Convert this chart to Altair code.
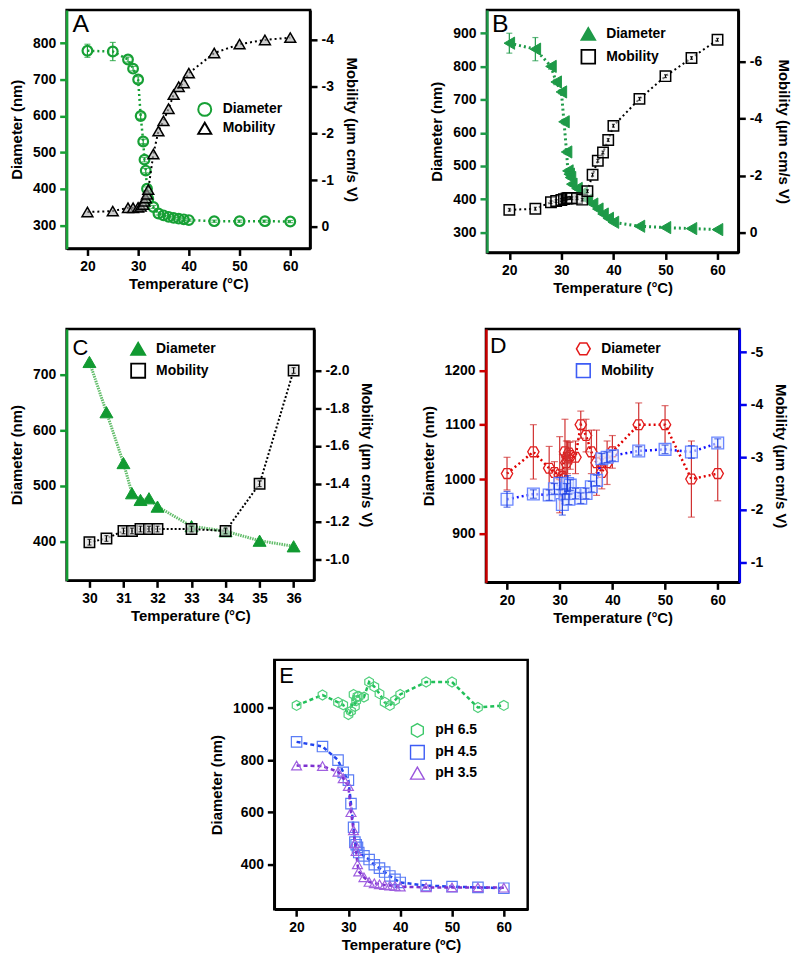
import altair as alt
import pandas as pd

FONT = "Liberation Sans"
MINUS_FIX = "replace(datum.label, '\u2212', '-')"

# ---------------- data ----------------
T_MAIN = [20, 25, 28, 29, 30, 30.5, 31, 31.25, 31.5, 31.75, 32, 33, 34, 35, 36, 37, 38, 39, 40, 45, 50, 55, 60]

# Panel A
A_diam = [779, 777, 755, 730, 700, 600, 530, 480, 450, 400, 372, 350, 332, 327, 323, 320, 318, 316, 314, 311, 311, 311, 310]
A_diam_err = [18, 25, 7, 6, 8, 8, 6, 6, 6, 5, 5, 4, 4, 4, 3, 3, 3, 3, 3, 3, 3, 3, 3]
A_mob = [-0.32, -0.34, -0.41, -0.41, -0.42, -0.44, -0.48, -0.55, -0.62, -0.70, -0.80, -1.56, -2.05, -2.27, -2.53, -2.83, -3.00, -3.08, -3.29, -3.72, -3.91, -4.00, -4.05]
A_mob_err = [0.03, 0.03, 0.03, 0.03, 0.03, 0.03, 0.03, 0.03, 0.03, 0.03, 0.03, 0.04, 0.04, 0.04, 0.04, 0.04, 0.04, 0.04, 0.04, 0.04, 0.04, 0.04, 0.04]

# Panel B
B_diam = [870, 852, 800, 753, 723, 633, 542, 485, 475, 465, 445, 432, 418, 398, 385, 370, 355, 342, 330, 318, 314, 311, 308]
B_diam_err = [30, 35, 8, 8, 6, 6, 6, 5, 5, 5, 5, 5, 4, 4, 4, 4, 4, 3, 3, 3, 3, 3, 3]
B_mob = [-0.79, -0.83, -1.06, -1.10, -1.14, -1.17, -1.19, -1.20, -1.21, -1.21, -1.20, -1.20, -1.15, -1.45, -2.03, -2.52, -2.81, -3.25, -3.75, -4.70, -5.50, -6.14, -6.78]
B_mob_err = [0.05, 0.05, 0.05, 0.05, 0.05, 0.05, 0.05, 0.05, 0.05, 0.05, 0.05, 0.05, 0.05, 0.05, 0.05, 0.05, 0.05, 0.05, 0.05, 0.05, 0.05, 0.05, 0.05]

# Panel C
C_T = [30, 30.5, 31, 31.25, 31.5, 31.75, 32, 33, 34, 35, 36]
C_diam = [722, 632, 541, 487, 475, 478, 463, 428, 419, 402, 392]
C_diam_err = [8, 4, 4, 4, 4, 4, 4, 4, 4, 3, 3]
C_mob = [-1.09, -1.11, -1.15, -1.15, -1.16, -1.16, -1.16, -1.16, -1.15, -1.40, -2.00]
C_mob_err = [0.015, 0.015, 0.015, 0.015, 0.015, 0.015, 0.015, 0.015, 0.015, 0.015, 0.015]

# Panel D
D_diam = [1010, 1050, 1020, 1012, 1008, 1005, 1050, 1030, 1040, 1048, 1043, 1040, 1100, 1080, 1050, 1030, 1012, 1030, 1050, 1100, 1100, 1000, 1010]
D_diam_err = [30, 50, 40, 20, 70, 40, 60, 40, 30, 20, 25, 30, 25, 30, 40, 60, 30, 40, 30, 40, 35, 70, 50]
D_mob = [-2.20, -2.30, -2.28, -2.40, -2.50, -2.10, -2.30, -2.40, -2.50, -2.20, -2.47, -2.31, -2.22, -2.31, -2.44, -2.56, -2.97, -3.00, -3.03, -3.12, -3.15, -3.10, -3.27]
D_mob_err = [0.15, 0.08, 0.10, 0.10, 0.12, 0.20, 0.10, 0.10, 0.15, 0.10, 0.10, 0.10, 0.10, 0.10, 0.10, 0.10, 0.10, 0.10, 0.10, 0.08, 0.08, 0.12, 0.08]

# Panel E
E_ph65 = [1010, 1050, 1022, 1012, 975, 988, 1052, 1006, 1028, 1045, 1045, 1042, 1100, 1082, 1055, 1022, 1010, 1030, 1052, 1100, 1100, 1002, 1010]
E_ph45 = B_diam
E_ph35 = A_diam

HEX_FLAT = "M-1,0L-0.5,-0.866L0.5,-0.866L1,0L0.5,0.866L-0.5,0.866Z"
HEX_POINTY = "M0,-1L0.866,-0.5L0.866,0.5L0,1L-0.866,0.5L-0.866,-0.5Z"

INDEP = dict(shape="independent", fill="independent", stroke="independent")


def make_df(T, v, err=None):
    d = {"T": T, "v": v}
    if err is not None:
        d["lo"] = [a - e for a, e in zip(v, err)]
        d["hi"] = [a + e for a, e in zip(v, err)]
    return pd.DataFrame(d)


def axis(title, orient, values, color="black", fmt=None, minus=False, title_pad=8):
    kw = dict(title=title, orient=orient, values=values, domainColor=color, tickColor=color,
              domainWidth=2.5, tickWidth=2.5, tickSize=7, labelPadding=4, labelFont=FONT,
              labelFontSize=14, labelFontWeight="bold", labelColor="black", titleFont=FONT,
              titleFontSize=15, titleFontWeight="bold", titleColor="black", titlePadding=title_pad,
              grid=False, labelFlush=False, labelOverlap=False)
    if fmt:
        kw["format"] = fmt
    if minus:
        kw["labelExpr"] = MINUS_FIX
    return alt.Axis(**kw)


def series(df, xenc, yscale, yaxis, line_color, dash, line_w, shape, size, fill, fill_op,
           stroke, stroke_w, err_color=None, err_w=1.3, cap=6):
    base = alt.Chart(df)
    y = alt.Y("v:Q", scale=yscale, axis=yaxis)
    layers = [
        base.mark_line(color=line_color, strokeDash=dash, strokeWidth=line_w).encode(x=xenc, y=y),
        base.mark_point(shape=shape, size=size, filled=True, fill=fill, fillOpacity=fill_op,
                        stroke=stroke, strokeWidth=stroke_w, opacity=1).encode(x=xenc, y=y),
    ]
    if err_color is not None:
        ylo = alt.Y("lo:Q", scale=yscale, axis=yaxis)
        yhi = alt.Y("hi:Q", scale=yscale, axis=yaxis)
        layers += [
            base.mark_rule(color=err_color, strokeWidth=err_w).encode(x=xenc, y=ylo, y2="hi:Q"),
            base.mark_tick(orient="horizontal", size=cap, thickness=err_w, color=err_color).encode(x=xenc, y=ylo),
            base.mark_tick(orient="horizontal", size=cap, thickness=err_w, color=err_color).encode(x=xenc, y=yhi),
        ]
    return alt.layer(*layers)


def legend_layer(names, shapes, fills, strokes, lx, ly, sym_size, sym_sw, row_pad=7):
    leg = alt.Legend(title=None, orient="none", legendX=lx, legendY=ly, labelFont=FONT,
                     labelFontSize=14, labelFontWeight="bold", labelColor="black",
                     symbolSize=sym_size, symbolStrokeWidth=sym_sw, rowPadding=row_pad,
                     labelOffset=10, symbolOpacity=1)
    df = pd.DataFrame({"series": names})
    return alt.Chart(df).transform_filter("false").mark_point(filled=True, strokeWidth=sym_sw).encode(
        x=alt.value(0), y=alt.value(0),
        shape=alt.Shape("series:N", scale=alt.Scale(domain=names, range=shapes), legend=leg),
        fill=alt.Fill("series:N", scale=alt.Scale(domain=names, range=fills), legend=leg),
        stroke=alt.Stroke("series:N", scale=alt.Scale(domain=names, range=strokes), legend=leg),
    )


def letter(txt, x, y, size):
    return alt.Chart(pd.DataFrame({"t": [txt]})).mark_text(
        font=FONT, fontSize=size, align="left", baseline="top", color="black").encode(
        text="t:N", x=alt.value(x), y=alt.value(y))


def xenc_for(domain, values, title="Temperature (°C)"):
    return alt.X("T:Q", scale=alt.Scale(domain=domain, nice=False, zero=False),
                 axis=axis(title, "bottom", values, title_pad=3))


T_TICKS = [20, 30, 40, 50, 60]

# ---------------- Panel A ----------------
GA = "#17a035"
xA = xenc_for([15.9, 63.9], T_TICKS)
ysA = alt.Scale(domain=[236, 891], nice=False, zero=False)
ymA = alt.Scale(domain=[-4.64, 0.46], nice=False, zero=False, reverse=True)
dA = series(make_df(T_MAIN, A_diam, A_diam_err), xA, ysA,
            axis("Diameter (nm)", "left", [300, 400, 500, 600, 700, 800], color=GA),
            GA, [2, 3], 2.5, "circle", 95, "white", 0, GA, 2.2, err_color=GA, err_w=1.2)
mA = series(make_df(T_MAIN, A_mob, A_mob_err), xA, ymA,
            axis("Mobility (µm cm/s V)", "right", [0, -1, -2, -3, -4], minus=True, title_pad=10),
            "black", [2, 3], 2, "triangle-up", 120, "#aaaaaa", 0.6, "black", 1.5)
legA = legend_layer(["Diameter", "Mobility"], ["circle", "triangle-up"], ["transparent", "transparent"],
                    [GA, "black"], 131, 92, 170, 2, row_pad=-2)
panelA = alt.layer(dA, mA, legA, letter("A", 6, 2, 25)).resolve_scale(y="independent").properties(width=245, height=240)

# ---------------- Panel B ----------------
GB = "#1e9a48"
xB = xenc_for([15.7, 64.0], T_TICKS)
ysB = alt.Scale(domain=[239, 970], nice=False, zero=False)
ymB = alt.Scale(domain=[-7.83, 0.71], nice=False, zero=False, reverse=True)
dB = series(make_df(T_MAIN, B_diam, B_diam_err), xB, ysB,
            axis("Diameter (nm)", "left", [300, 400, 500, 600, 700, 800, 900], color=GB),
            GB, [2, 3], 3, "triangle-left", 150, GB, 1, GB, 1, err_color=GB, err_w=1.2)
mB = series(make_df(T_MAIN, B_mob, B_mob_err), xB, ymB,
            axis("Mobility (µm cm/s V)", "right", [0, -2, -4, -6], minus=True, title_pad=14),
            "black", [2, 3], 2, "square", 110, "#f2f2f2", 0.5, "black", 1.5, err_color="black", err_w=1.2, cap=3)
legB = legend_layer(["Diameter", "Mobility"], ["triangle-up", "square"], [GB, "transparent"],
                    [GB, "black"], 94, 16, 190, 1.8, row_pad=2)
panelB = alt.layer(dB, mB, legB, letter("B", 5, 2, 25)).resolve_scale(y="independent").properties(width=253, height=244)

# ---------------- Panel C ----------------
GC = "#119a31"
xC = xenc_for([29.33, 36.6], [30, 31, 32, 33, 34, 35, 36])
ysC = alt.Scale(domain=[331, 781], nice=False, zero=False)
ymC = alt.Scale(domain=[-2.22, -0.888], nice=False, zero=False, reverse=True)
dC = series(make_df(C_T, C_diam, C_diam_err), xC, ysC,
            axis("Diameter (nm)", "left", [400, 500, 600, 700], color=GC),
            "#62bd6a", [1.5, 1], 3, "triangle-up", 170, GC, 1, GC, 1)
mC = series(make_df(C_T, C_mob, C_mob_err), xC, ymC,
            axis("Mobility (µm cm/s V)", "right", [-1.0, -1.2, -1.4, -1.6, -1.8, -2.0], fmt=".1f", minus=True, title_pad=10),
            "black", [2, 2], 2, "square", 110, "#dddddd", 0.7, "black", 1.5, err_color="black", err_w=1.2, cap=4)
legC = legend_layer(["Diameter", "Mobility"], ["triangle-up", "square"], [GC, "transparent"],
                    [GC, "black"], 64, 12, 200, 1.8, row_pad=1)
panelC = alt.layer(dC, mC, legC, letter("C", 6, 9, 22)).resolve_scale(y="independent").properties(width=249, height=253)

# ---------------- Panel D ----------------
RED = "#e31a1a"
BLUE = "#3d5cf5"
xD = xenc_for([16.0, 64.1], T_TICKS)
ysD = alt.Scale(domain=[810, 1276], nice=False, zero=False)
ymD = alt.Scale(domain=[-5.44, -0.62], nice=False, zero=False, reverse=True)
dD = series(make_df(T_MAIN, D_diam, D_diam_err), xD, ysD,
            axis("Diameter (nm)", "left", [900, 1000, 1100, 1200], color="#cc0000", fmt="d"),
            "#e00000", [2, 3], 2.5, HEX_FLAT, 130, "white", 0, RED, 1.3, err_color="#d03030", err_w=1.2, cap=7)
mD = series(make_df(T_MAIN, D_mob, D_mob_err), xD, ymD,
            axis("Mobility (µm cm/s V)", "right", [-1, -2, -3, -4, -5], color="#0000ee", minus=True, title_pad=10),
            "#1010ff", [2, 3], 2.5, "square", 140, "#e8eeff", 0.6, "#6a86ff", 1.3, err_color="#2040e0", err_w=1.2, cap=7)
legD = legend_layer(["Diameter", "Mobility"], [HEX_FLAT, "square"], ["transparent", "transparent"],
                    [RED, BLUE], 90, 12, 190, 1.6, row_pad=1)
panelD = alt.layer(dD, mD, legD, letter("D", 4, 6, 23)).resolve_scale(y="independent").properties(width=255, height=255)

# ---------------- Panel E ----------------
xE = xenc_for([15.7, 64.6], T_TICKS, title="Temperature (ºC)")
ysE = alt.Scale(domain=[227, 1185], nice=False, zero=False)
axE = axis("Diameter (nm)", "left", [400, 600, 800, 1000], fmt="d")
e65 = series(make_df(T_MAIN, E_ph65), xE, ysE, axE, "#22c05a", [4, 3], 2.5, HEX_POINTY, 100, "white", 0, "#4fcf7a", 1.2)
e45 = series(make_df(T_MAIN, E_ph45), xE, ysE, axE, "#2244ee", [4, 3], 2.5, "square", 110, "white", 0, "#5a7cf5", 1.2)
e35 = series(make_df(T_MAIN, E_ph35), xE, ysE, axE, "#7d30d0", [4, 3], 2.5, "triangle-up", 100, "white", 0, "#a060e0", 1.2)
legE = legend_layer(["pH 6.5", "pH 4.5", "pH 3.5"], [HEX_POINTY, "square", "triangle-up"],
                    ["transparent", "transparent", "transparent"], ["#3cc86a", "#3d5cf5", "#9a55dd"],
                    136, 63, 190, 1.4, row_pad=2)
panelE = alt.layer(e65, e45, e35, legE, letter("E", 5, 6, 22)).properties(width=255, height=251)

spacer = alt.Chart(pd.DataFrame({"v": [0]})).mark_point(opacity=0).encode(
    x=alt.value(0), y=alt.value(0)).properties(width=142, height=10, view=alt.ViewBackground(strokeOpacity=0))

row1 = alt.hconcat(panelA, panelB, spacing=69).resolve_scale(**INDEP)
row2 = alt.hconcat(panelC, panelD, spacing=44).resolve_scale(**INDEP)
row3 = alt.hconcat(spacer, panelE, spacing=0).resolve_scale(**INDEP)

chart = alt.vconcat(row1, row2, row3, spacing=30).resolve_scale(**INDEP).properties(
    padding={"left": 0, "top": -3, "right": 0, "bottom": 0}
).configure_view(stroke="black", strokeWidth=2.5)

chart.save("out.html", embed_options={"renderer": "svg", "actions": False})
